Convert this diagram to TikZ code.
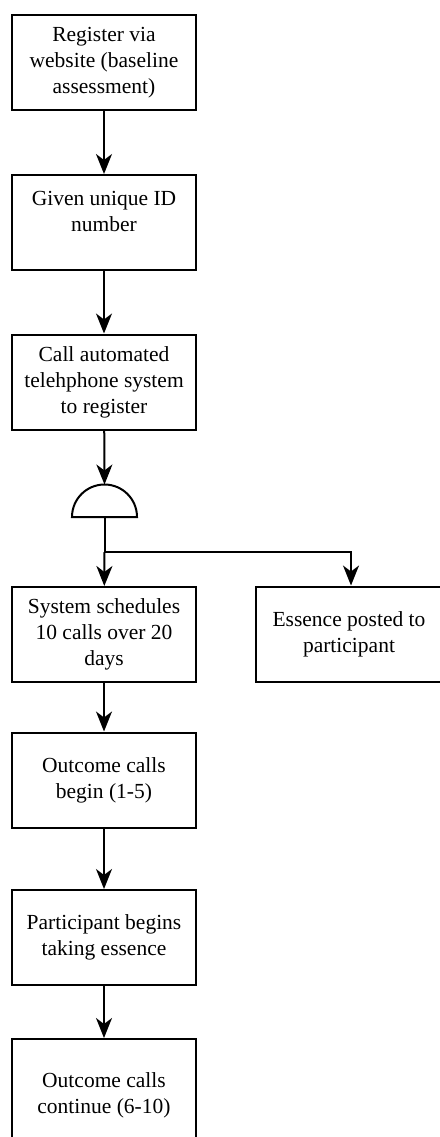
\documentclass[tikz,border=0pt]{standalone}
\usepackage{fontspec}
\setmainfont{Liberation Serif}
\usetikzlibrary{arrows.meta}
\begin{document}
\begin{tikzpicture}[x=1pt,y=-1pt,
  stepbox/.style={draw, line width=2pt, minimum width=184pt, minimum height=95pt,
    align=center, inner sep=0pt, font=\fontsize{21.5}{26}\selectfont},
  flow/.style={line width=2pt, -{Stealth[length=20pt,width=16pt,inset=6pt]}},
  plain/.style={line width=2pt}]
\useasboundingbox (0,0) rectangle (439,1137);
\node[stepbox] (reg) at (104,62.5) {Register via\\website (baseline\\assessment)};
\node[stepbox] (id) at (104,222.5) {Given unique ID\\number\\[-4pt]};
\node[stepbox] (call) at (104,382) {Call automated\\telehphone system\\to register};
% semicircular junction gate
\draw[line width=2pt] (72,517) arc[start angle=180, end angle=360, radius=32.5] -- cycle;
\coordinate (gtop) at (104.5,484.5);
\coordinate (gbot) at (104.5,517);
\coordinate (split) at (104.5,552);
\coordinate (turn) at (351,552);
\node[stepbox] (sched) at (104,634.5) {System schedules\\10 calls over 20\\days};
\node[stepbox, minimum width=186pt] (post) at (349,634) {Essence posted to\\participant};
\node[stepbox] (begin) at (104,780) {Outcome calls\\begin (1-5)};
\node[stepbox] (take) at (104,937.5) {Participant begins\\taking essence};
\node[stepbox, minimum height=112pt] (cont) at (104,1095) {Outcome calls\\continue (6-10)};
\draw[flow] (reg) -- (id);
\draw[flow] (id) -- (call);
\draw[flow] (call) -- (gtop);
\draw[plain] (gbot) -- (split);
\draw[flow] (split) -- (sched);
\draw[flow] (split) -- (turn) -- (post.north -| turn);
\draw[flow] (sched) -- (begin);
\draw[flow] (begin) -- (take);
\draw[flow] (take) -- (cont);
\end{tikzpicture}
\end{document}
